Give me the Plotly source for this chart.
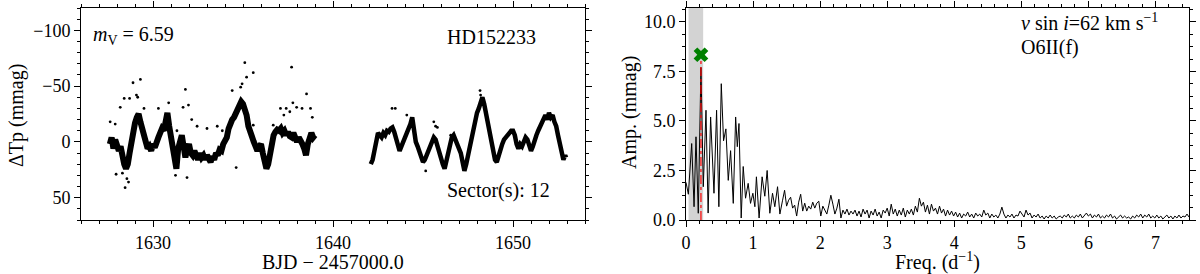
import plotly.graph_objects as go

# ---------------- Light curve (HD152233, TESS sector 12) ----------------
lc1_time = [1627.60, 1627.70, 1627.80, 1627.90, 1628.00, 1628.10, 1628.20, 1628.30, 1628.40, 1628.50,
            1628.60, 1628.70, 1628.80, 1628.90, 1629.00, 1629.10, 1629.20, 1629.30, 1629.40, 1629.50,
            1629.60, 1629.70, 1629.80, 1629.90, 1630.00, 1630.10, 1630.20, 1630.30, 1630.40, 1630.50,
            1630.60, 1630.70, 1630.80, 1630.90, 1631.00, 1631.10, 1631.20, 1631.30, 1631.40, 1631.50,
            1631.60, 1631.70, 1631.80, 1631.90, 1632.00, 1632.10, 1632.20, 1632.30, 1632.40, 1632.50,
            1632.60, 1632.70, 1632.80, 1632.90, 1633.00, 1633.10, 1633.20, 1633.30, 1633.40, 1633.50,
            1633.60, 1633.70, 1633.80, 1633.90, 1634.00, 1634.10, 1634.20, 1634.30, 1634.40, 1634.50,
            1634.60, 1634.70, 1634.80, 1634.90, 1635.00, 1635.10, 1635.20, 1635.30, 1635.40, 1635.50,
            1635.60, 1635.70, 1635.80, 1635.90, 1636.00, 1636.10, 1636.20, 1636.30, 1636.40, 1636.50,
            1636.60, 1636.70, 1636.80, 1636.90, 1637.00, 1637.10, 1637.20, 1637.30, 1637.40, 1637.50,
            1637.60, 1637.70, 1637.80, 1637.90, 1638.00, 1638.10, 1638.20, 1638.30, 1638.40, 1638.50,
            1638.60, 1638.70, 1638.80, 1638.90, 1639.00]
lc1_dmag = [2, -4, 6, -2, 3, 8, 4, 14, 20, 24,
            20, 10, -2, -10, -17, -22, -25, -18, -10, -5,
            0, 6, 4, 8, 2, 5, -2, -4, -8, -12,
            -10, -16, -26, -14, -4, 6, 16, 24, 6, -2,
            -6, 4, 14, 6, 2, 10, 12, 8, 12, 16,
            10, 14, 12, 16, 12, 15, 18, 13, 16, 10,
            12, 7, 8, 2, -2, -4, -12, -18, -20, -22,
            -26, -28, -33, -36, -34, -30, -24, -14, -8, -4,
            0, 4, 8, 4, 2, 10, 18, 24, 20, 8,
            -2, -6, -9, -11, -10, -12, -8, -10, -6, -9,
            -5, -4, -8, -2, 0, -4, -2, 2, 6, 12,
            2, -6, -8, -4, -6]

lc2_time = [1642.10, 1642.20, 1642.30, 1642.40, 1642.50, 1642.60, 1642.70, 1642.80, 1642.90, 1643.00,
            1643.10, 1643.20, 1643.30, 1643.40, 1643.50, 1643.60, 1643.70, 1643.80, 1643.90, 1644.00,
            1644.10, 1644.20, 1644.30, 1644.40, 1644.50, 1644.60, 1644.70, 1644.80, 1644.90, 1645.00,
            1645.10, 1645.20, 1645.30, 1645.40, 1645.50, 1645.60, 1645.70, 1645.80, 1645.90, 1646.00,
            1646.10, 1646.20, 1646.30, 1646.40, 1646.50, 1646.60, 1646.70, 1646.80, 1646.90, 1647.00,
            1647.10, 1647.20, 1647.30, 1647.40, 1647.50, 1647.60, 1647.70, 1647.80, 1647.90, 1648.00,
            1648.10, 1648.20, 1648.30, 1648.40, 1648.50, 1648.60, 1648.70, 1648.80, 1648.90, 1649.00,
            1649.10, 1649.20, 1649.30, 1649.40, 1649.50, 1649.60, 1649.70, 1649.80, 1649.90, 1650.00,
            1650.10, 1650.20, 1650.30, 1650.40, 1650.50, 1650.60, 1650.70, 1650.80, 1650.90, 1651.00,
            1651.10, 1651.20, 1651.30, 1651.40, 1651.50, 1651.60, 1651.70, 1651.80, 1651.90, 1652.00,
            1652.10, 1652.20, 1652.30, 1652.40, 1652.50, 1652.60, 1652.70, 1652.80, 1652.90, 1652.95]
lc2_dmag = [20, 16, 8, 0, -8, -6, -4, -8, -6, -10,
            -9, -12, -13, -9, -4, 2, 8, 4, 0, -4,
            -6, -10, -16, -22, -8, 0, 4, 8, 14, 18,
            16, 12, 8, 5, 0, -4, -2, 4, 10, 16,
            20, 24, 16, 8, 0, -4, -6, -2, 2, 6,
            10, 18, 26, 20, 12, 4, -4, -10, -18, -26,
            -30, -36, -40, -34, -26, -18, -8, 0, 8, 16,
            18, 12, 6, 2, -2, -4, -6, -8, -10, -10,
            -6, 2, 6, 2, 4, 0, -4, -2, 4, 8,
            4, -2, -6, -10, -14, -16, -20, -24, -20, -26,
            -22, -24, -18, -14, -6, 2, 10, 16, 12, 14]

# scattered (outlying) photometric points
out_time = [1628.89, 1629.30, 1628.18, 1628.40, 1628.70, 1629.08, 1627.62, 1627.90, 1627.95, 1628.45,
            1628.64, 1629.50, 1630.30, 1630.87, 1631.80, 1631.67, 1631.97, 1631.89, 1632.45, 1631.33,
            1633.00, 1633.57, 1633.85, 1634.40, 1634.87, 1635.10, 1635.20, 1635.57, 1634.62, 1635.57,
            1636.68, 1637.40, 1637.70, 1637.77, 1637.98, 1638.28, 1638.53, 1638.75, 1638.85, 1637.27,
            1637.08, 1637.60, 1628.55, 1628.30, 1631.25, 1632.15, 1634.95, 1629.15,
            1643.28, 1643.46, 1644.10, 1645.60, 1645.70, 1645.80, 1646.54, 1648.17, 1648.20, 1645.15]
out_dmag = [-53, -56, -31, -39, -39, -42, -18, -16, 29, 41,
            36, -30, -30, -35, -47, -31, -33, 32, -14, -10,
            -12, -14, -10, -46, -49, -71, -58, -62, 23, -15,
            -15, -30, -67, -35, -31, -30, -43, -30, -22, -24,
            -30, -27, 33, 28, 30, -20, -52, -40,
            -30, -30, -24, -18, -14, -13, -6, -46, -42, 26]

# ---------------- Amplitude spectrum ----------------
freq_low = [0.000, 0.035, 0.085, 0.120, 0.149, 0.183, 0.223, 0.258, 0.298, 0.330,
            0.367, 0.417, 0.456, 0.490, 0.526, 0.560, 0.595, 0.630, 0.665, 0.705,
            0.740, 0.765, 0.790, 0.823, 0.853, 0.888, 0.927, 0.962, 0.997, 1.027,
            1.050, 1.090, 1.135, 1.175, 1.210, 1.250, 1.290, 1.324, 1.365, 1.400,
            1.440, 1.470, 1.500]
amp_low = [1.9, 1.3, 3.86, 0.67, 4.2, 0.34, 7.7, 1.68, 5.54, 0.35,
           5.2, 1.35, 5.54, 0.67, 6.88, 4.0, 4.6, 2.0, 3.5, 0.84,
           5.2, 3.7, 4.87, 0.1, 2.7, 1.1, 1.85, 0.84, 1.35, 0.67,
           2.18, 0.1, 2.18, 1.2, 2.5, 0.34, 1.35, 0.67, 1.68, 0.3,
           1.0, 1.5, 0.7]

freq_high = [1.53, 1.56, 1.59, 1.62, 1.65, 1.68, 1.71, 1.74, 1.77, 1.80, 1.83, 1.86, 1.89, 1.92, 1.95, 1.98,
             2.01, 2.04, 2.07, 2.10, 2.13, 2.16, 2.19, 2.22, 2.25, 2.28, 2.31, 2.34, 2.37, 2.40, 2.43, 2.46, 2.49,
             2.52, 2.55, 2.58, 2.61, 2.64, 2.67, 2.70, 2.73, 2.76, 2.79, 2.82, 2.85, 2.88, 2.91, 2.94, 2.97,
             3.00, 3.03, 3.06, 3.09, 3.12, 3.15, 3.18, 3.21, 3.24, 3.27, 3.30, 3.33, 3.36, 3.39, 3.42, 3.45, 3.48,
             3.51, 3.54, 3.57, 3.60, 3.63, 3.66, 3.69, 3.72, 3.75, 3.78, 3.81, 3.84, 3.87, 3.90, 3.93, 3.96, 3.99,
             4.02, 4.05, 4.08, 4.11, 4.14, 4.17, 4.20, 4.23, 4.26, 4.29, 4.32, 4.35, 4.38, 4.41, 4.44, 4.47,
             4.50, 4.53, 4.56, 4.59, 4.62, 4.65, 4.68, 4.71, 4.74, 4.77, 4.80, 4.83, 4.86, 4.89, 4.92, 4.95, 4.98,
             5.01, 5.04, 5.07, 5.10, 5.13, 5.16, 5.19, 5.22, 5.25, 5.28, 5.31, 5.34, 5.37, 5.40, 5.43, 5.46,
             5.49, 5.52, 5.55, 5.58, 5.61, 5.64, 5.67, 5.70, 5.73, 5.76, 5.79, 5.82, 5.85, 5.88, 5.91, 5.94, 5.97,
             6.00, 6.03, 6.06, 6.09, 6.12, 6.15, 6.18, 6.21, 6.24, 6.27, 6.30, 6.33, 6.36, 6.39, 6.42, 6.45,
             6.48, 6.51, 6.54, 6.57, 6.60, 6.63, 6.66, 6.69, 6.72, 6.75, 6.78, 6.81, 6.84, 6.87, 6.90, 6.93, 6.96,
             6.99, 7.02, 7.05, 7.08, 7.11, 7.14, 7.17, 7.20, 7.23, 7.26, 7.29, 7.32, 7.35, 7.38, 7.41, 7.44, 7.47, 7.50]
amp_high = [1.0, 1.15, 0.6, 0.75, 0.2, 0.9, 1.3, 0.45, 0.85, 0.45, 0.7, 0.55, 0.9, 0.6, 0.85, 0.95,
            0.2, 0.7, 0.45, 0.3, 0.75, 1.25, 0.8, 0.3, 0.6, 1.05, 0.1, 0.5, 0.3, 0.55, 0.25, 0.45, 0.3,
            0.5, 0.2, 0.45, 0.15, 0.55, 0.3, 0.5, 0.1, 0.45, 0.25, 0.55, 0.2, 0.4, 0.1, 0.5, 0.35,
            0.6, 0.2, 0.8, 0.3, 0.55, 0.2, 0.5, 0.25, 0.6, 0.15, 0.5, 0.3, 0.55, 0.25, 0.7, 0.4, 1.1,
            0.7, 0.9, 0.4, 0.75, 0.3, 0.8, 0.45, 0.6, 0.3, 0.7, 0.35, 0.55, 0.2, 0.5, 0.25, 0.45, 0.2,
            0.4, 0.15, 0.35, 0.1, 0.3, 0.2, 0.4, 0.15, 0.3, 0.1, 0.35, 0.2, 0.3, 0.15, 0.5, 0.25,
            0.35, 0.1, 0.3, 0.15, 0.25, 0.1, 0.3, 0.65, 0.3, 0.1, 0.25, 0.15, 0.3, 0.1, 0.25, 0.2, 0.45,
            0.3, 0.15, 0.5, 0.25, 0.35, 0.1, 0.25, 0.15, 0.3, 0.1, 0.2, 0.05, 0.2, 0.1, 0.25, 0.1,
            0.2, 0.05, 0.15, 0.2, 0.1, 0.25, 0.15, 0.3, 0.1, 0.2, 0.1, 0.25, 0.15, 0.3, 0.1, 0.25, 0.35,
            0.2, 0.3, 0.1, 0.25, 0.15, 0.3, 0.1, 0.2, 0.1, 0.25, 0.15, 0.3, 0.1, 0.2, 0.05, 0.15,
            0.25, 0.1, 0.2, 0.1, 0.15, 0.05, 0.2, 0.1, 0.25, 0.15, 0.3, 0.1, 0.25, 0.15, 0.3, 0.1, 0.2,
            0.1, 0.25, 0.1, 0.2, 0.05, 0.15, 0.25, 0.1, 0.2, 0.05, 0.2, 0.1, 0.25, 0.1, 0.2, 0.15, 0.3, 0.15]

peak_freq = [0.223, 0.223]
peak_line_amp = [0.0, 8.34]
peak_marker_amp = [8.34]
excluded_band = [0.038, 0.256]   # shaded low-frequency region (d^-1)

FONT = "Liberation Serif, Times New Roman, serif"
W, H = 1200, 274
MT, MB = 8, 54
PH = H - MT - MB  # plot height in px

fig = go.Figure()

# light curve band
fig.add_trace(go.Scatter(x=lc1_time, y=lc1_dmag, mode="lines",
                         line=dict(color="black", width=6), xaxis="x", yaxis="y",
                         showlegend=False, hoverinfo="skip"))
fig.add_trace(go.Scatter(x=lc2_time, y=lc2_dmag, mode="lines",
                         line=dict(color="black", width=4.5), xaxis="x", yaxis="y",
                         showlegend=False, hoverinfo="skip"))
fig.add_trace(go.Scatter(x=out_time, y=out_dmag, mode="markers",
                         marker=dict(color="black", size=2.8), xaxis="x", yaxis="y",
                         showlegend=False, hoverinfo="skip"))

# amplitude spectrum
fig.add_trace(go.Scatter(x=freq_low + freq_high, y=amp_low + amp_high, mode="lines",
                         line=dict(color="black", width=1), xaxis="x2", yaxis="y2",
                         showlegend=False))
fig.add_trace(go.Scatter(x=peak_freq, y=peak_line_amp, mode="lines",
                         line=dict(color="red", width=1.2, dash="dashdot"), xaxis="x2", yaxis="y2",
                         showlegend=False))
fig.add_trace(go.Scatter(x=peak_freq[:1], y=peak_marker_amp, mode="markers",
                         marker=dict(color="green", symbol="x", size=13, line=dict(width=0)),
                         xaxis="x2", yaxis="y2", showlegend=False))

fig.add_shape(type="rect", xref="x2", yref="y2 domain", x0=excluded_band[0], x1=excluded_band[1],
              y0=0, y1=1, fillcolor="#d3d3d3", line=dict(width=0), layer="below")

axis_common = dict(showline=True, linecolor="black", linewidth=1, mirror="allticks",
                   ticks="outside", ticklen=6, tickwidth=1, tickcolor="black",
                   showgrid=False, zeroline=False, automargin=False,
                   tickfont=dict(family=FONT, size=18, color="black"))
minor_common = dict(ticks="outside", ticklen=3, tickwidth=1, tickcolor="black", showgrid=False)

fig.update_layout(
    width=W, height=H,
    margin=dict(l=0, r=0, t=MT, b=MB, autoexpand=False),
    paper_bgcolor="white", plot_bgcolor="white",
    font=dict(family=FONT, color="black"),
    xaxis=dict(domain=[81 / W, 585 / W], range=[1626, 1654], tick0=1630, dtick=10,
               minor=dict(dtick=1, **minor_common), anchor="y", **axis_common),
    yaxis=dict(domain=[0, 1], range=[70, -120], tick0=0, dtick=50,
               minor=dict(dtick=10, **minor_common), anchor="x", **axis_common),
    xaxis2=dict(domain=[686 / W, 1189 / W], range=[0, 7.5], tick0=0, dtick=1,
                minor=dict(dtick=0.2, **minor_common), anchor="y2", **axis_common),
    yaxis2=dict(domain=[0, 1], range=[0, 10.7], tick0=0, dtick=2.5, tickformat=".1f",
                minor=dict(dtick=0.625, **minor_common), anchor="x2", **axis_common),
)

title_font = dict(family=FONT, size=20, color="black")
# axis titles (placed in paper coordinates)
fig.add_annotation(x=333 / W, y=-(262 - (H - MB)) / PH, xref="paper", yref="paper",
                   text="BJD − 2457000.0", showarrow=False, xanchor="center", yanchor="middle",
                   font=title_font)
fig.add_annotation(x=937.5 / W, y=-(261 - (H - MB)) / PH, xref="paper", yref="paper",
                   text="Freq. (d<sup>−1</sup>)", showarrow=False, xanchor="center", yanchor="middle",
                   font=title_font)
fig.add_annotation(x=16 / W, y=1 - (116 - MT) / PH, xref="paper", yref="paper",
                   text="ΔTp (mmag)", textangle=-90, showarrow=False, xanchor="center",
                   yanchor="middle", font=title_font)
fig.add_annotation(x=630 / W, y=1 - (113 - MT) / PH, xref="paper", yref="paper",
                   text="Amp. (mmag)", textangle=-90, showarrow=False, xanchor="center",
                   yanchor="middle", font=title_font)

ann_font = dict(family=FONT, size=20, color="black")
fig.add_annotation(x=1626.55, y=-95.4, xref="x", yref="y", text="<i>m</i><sub>V</sub> = 6.59",
                   showarrow=False, xanchor="left", yanchor="middle", font=ann_font)
fig.add_annotation(x=1646.2, y=-93.6, xref="x", yref="y", text="HD152233",
                   showarrow=False, xanchor="left", yanchor="middle", font=ann_font)
fig.add_annotation(x=1646.2, y=43.2, xref="x", yref="y", text="Sector(s): 12",
                   showarrow=False, xanchor="left", yanchor="middle", font=ann_font)
fig.add_annotation(x=4.97, y=10.0, xref="x2", yref="y2",
                   text="<i>v</i> sin <i>i</i>=62 km s<sup>−1</sup>",
                   showarrow=False, xanchor="left", yanchor="middle", font=ann_font)
fig.add_annotation(x=4.97, y=8.72, xref="x2", yref="y2", text="O6II(f)",
                   showarrow=False, xanchor="left", yanchor="middle", font=ann_font)

fig.write_html("out.html", config={"displayModeBar": False},
               post_script="document.body.style.margin='0px';")
